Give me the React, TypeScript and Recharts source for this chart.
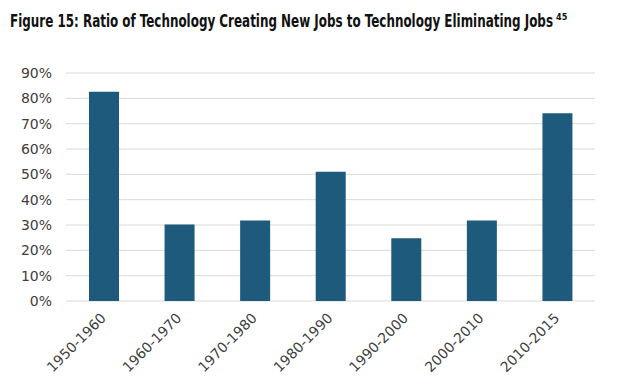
import React, { useLayoutEffect, useRef, useState } from 'react';
import { BarChart, Bar, XAxis, YAxis, CartesianGrid } from 'recharts';

const periods = ['1950-1960', '1960-1970', '1970-1980', '1980-1990', '1990-2000', '2000-2010', '2010-2015'];
const ratios = [82.6, 30.2, 31.8, 51, 24.8, 31.8, 74.1];
const yTicks = [0, 10, 20, 30, 40, 50, 60, 70, 80, 90];
const boundaryTicks = [0, 1, 2, 3, 4, 5, 6, 7];

const titleText = 'Figure 15: Ratio of Technology Creating New Jobs to Technology Eliminating Jobs';
const footnote = '45';

const data = periods.map((p, i) => ({ period: p, ratio: ratios[i], idx: i + 0.5 }));

const FONT = "'DejaVu Sans', Verdana, sans-serif";
const TEXT = '#404040';

const RotTick = (props: any) => {
  const { x, y, payload } = props;
  const ax = x + 3;
  const ay = y + 18;
  return (
    <text
      x={ax}
      y={ay}
      transform={`rotate(-45 ${ax} ${ay})`}
      textAnchor="end"
      fontSize={14}
      fill={TEXT}
      fontFamily={FONT}
    >
      {payload.value}
    </text>
  );
};

const NoTick = () => <g />;

function Title() {
  const ref = useRef<HTMLSpanElement>(null);
  const [k, setK] = useState(1);
  useLayoutEffect(() => {
    if (ref.current) {
      const w = ref.current.offsetWidth;
      if (w > 0) setK(543 / w);
    }
  }, []);
  return (
    <div
      style={{
        position: 'absolute',
        left: 10,
        top: 11,
        whiteSpace: 'nowrap',
        transform: `scaleX(${k})`,
        transformOrigin: '0 0',
        fontFamily: "'DejaVu Sans Condensed', 'Liberation Sans Narrow', sans-serif",
        fontWeight: 'bold',
        fontSize: 17,
        lineHeight: '20px',
        color: '#111',
      }}
    >
      <span ref={ref}>{titleText}</span>
    </div>
  );
}

export default function App() {
  return (
    <div style={{ position: 'absolute', left: 0, top: 0, width: 618, height: 388, background: '#fff' }}>
      <div style={{ position: 'absolute', left: 0, top: 0 }}>
        <BarChart
          width={618}
          height={388}
          data={data}
          margin={{ top: 73, right: 23, bottom: 0, left: 0 }}
        >
          <CartesianGrid vertical={false} stroke="#d9d9d9" strokeWidth={1} />
          <XAxis
            xAxisId="num"
            dataKey="idx"
            type="number"
            domain={[0, 7]}
            ticks={boundaryTicks}
            height={0}
            tick={NoTick}
            tickLine={{ stroke: '#bfbfbf' }}
            tickSize={5}
            axisLine={{ stroke: '#bfbfbf' }}
            allowDataOverflow
          />
          <XAxis
            xAxisId="cat"
            dataKey="period"
            height={87}
            interval={0}
            axisLine={false}
            tickLine={false}
            tickSize={0}
            tickMargin={0}
            tick={RotTick}
          />
          <YAxis
            domain={[0, 90]}
            ticks={yTicks}
            width={66}
            axisLine={false}
            tickLine={false}
            tickMargin={8}
            tickFormatter={(v: number) => `${v}%`}
            tick={{ fontSize: 14, fill: TEXT, fontFamily: FONT }}
          />
          <Bar dataKey="ratio" xAxisId="cat" fill="#1d5a7c" barSize={30} isAnimationActive={false} />
        </BarChart>
      </div>
      <Title />
      <div
        style={{
          position: 'absolute',
          left: 556,
          top: 12,
          fontFamily: "'DejaVu Sans Condensed', 'Liberation Sans Narrow', sans-serif",
          fontWeight: 'bold',
          fontSize: 9,
          lineHeight: '10px',
          color: '#111',
        }}
      >
        {footnote}
      </div>
    </div>
  );
}
